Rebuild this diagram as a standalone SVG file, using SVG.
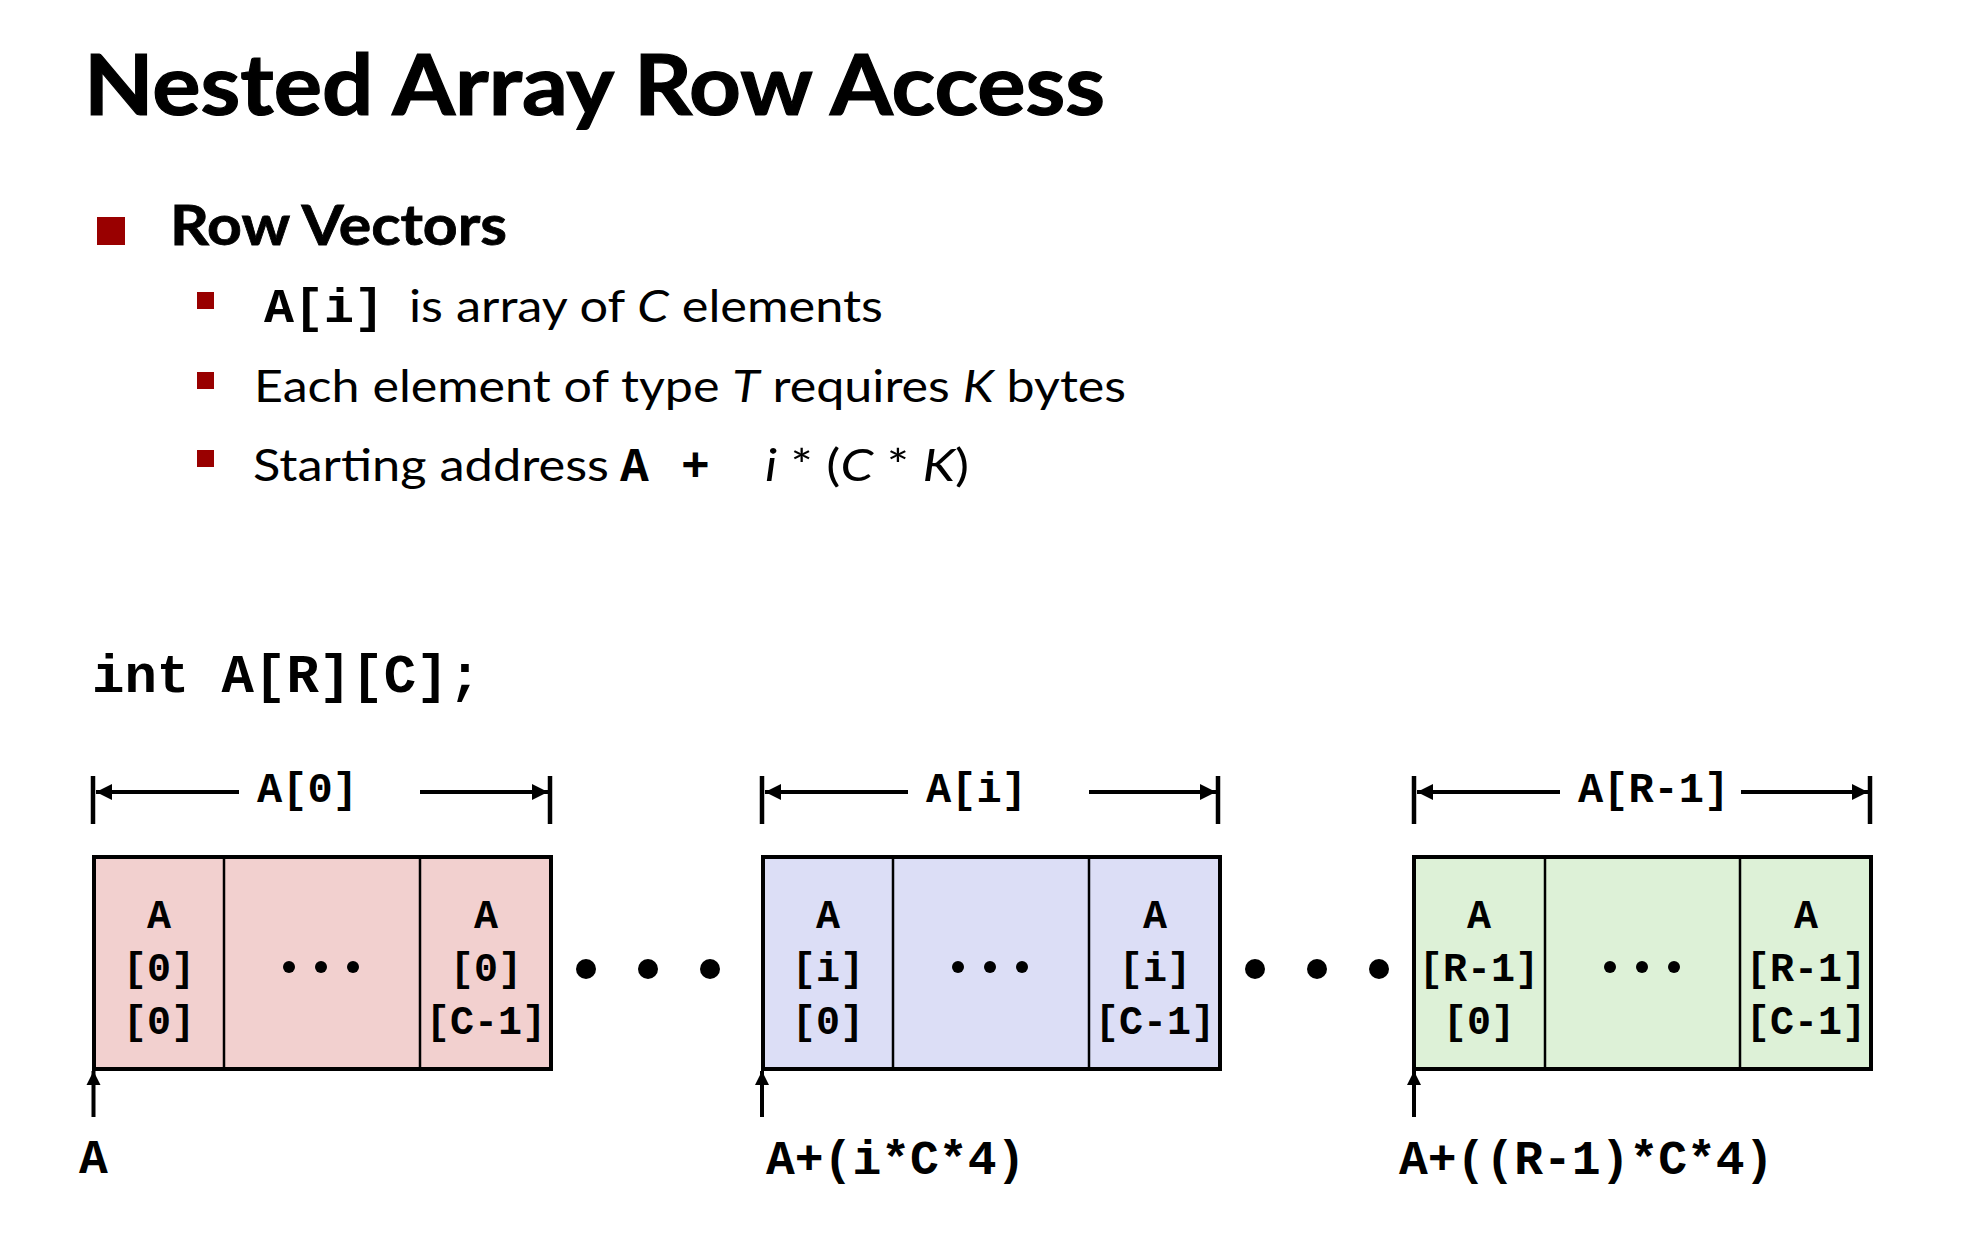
<svg xmlns="http://www.w3.org/2000/svg" width="1962" height="1234" viewBox="0 0 1962 1234">
  <style>
    .title { font-family: Lato, "Open Sans", sans-serif; font-weight: 700; font-size: 84px; fill: #000; stroke: #000; stroke-width: 1.2; }
    .h1 { font-family: Lato, "Open Sans", sans-serif; font-weight: 700; font-size: 56px; fill: #000; stroke: #000; stroke-width: 0.8; }
    .body { font-family: Lato, "Open Sans", sans-serif; font-size: 45px; fill: #000; }
    .it { font-style: italic; }
    .code { font-family: "Liberation Mono", "Courier New", monospace; font-weight: 700; fill: #000; }
    .decl { font-size: 54px; }
    .dim { font-size: 42px; }
    .cell { font-size: 40px; text-anchor: middle; }
    .addr { font-size: 48px; }
    .bul { fill: #990000; }
    .outer { stroke: #000; stroke-width: 4; }
    .div { stroke: #000; stroke-width: 2.5; fill: none; }
    .dl { stroke: #000; stroke-width: 4; fill: none; }
    .tick { stroke: #000; stroke-width: 4.5; fill: none; }
    .p0 { fill: #f2d0cf; }
    .pi { fill: #dcdef6; }
    .pr { fill: #ddf1d7; }
  </style>
  <defs>
    <marker id="ah" viewBox="0 0 10 10" refX="10" refY="5" markerWidth="4" markerHeight="4" orient="auto" markerUnits="strokeWidth">
      <path d="M0,0 L10,5 L0,10 z" fill="#000"/>
    </marker>
    <marker id="up" viewBox="0 0 10 10" refX="10" refY="5" markerWidth="3.6" markerHeight="3.6" orient="auto" markerUnits="strokeWidth">
      <path d="M0,0 L10,5 L0,10 z" fill="#000"/>
    </marker>
  </defs>

  <rect width="1962" height="1234" fill="#fff"/>

  <!-- heading and bullet list -->
  <g id="heading">
    <text class="title" x="84" y="115" textLength="1021" lengthAdjust="spacingAndGlyphs">Nested Array Row Access</text>
    <rect class="bul" x="97" y="217" width="28" height="28"/>
    <text class="h1" x="170" y="245" textLength="337" lengthAdjust="spacingAndGlyphs">Row Vectors</text>

    <rect class="bul" x="197" y="292" width="17" height="17"/>
    <text class="code" x="264" y="322" font-size="48" textLength="120" lengthAdjust="spacingAndGlyphs">A[i]</text>
    <text class="body" x="409" y="322" textLength="474" lengthAdjust="spacingAndGlyphs">is array of <tspan class="it">C</tspan> elements</text>

    <rect class="bul" x="197" y="372" width="17" height="17"/>
    <text class="body" x="254" y="402" textLength="872" lengthAdjust="spacingAndGlyphs">Each element of type <tspan class="it">T</tspan> requires <tspan class="it">K</tspan> bytes</text>

    <rect class="bul" x="197" y="450" width="17" height="17"/>
    <text class="body" x="253" y="481" textLength="356" lengthAdjust="spacingAndGlyphs">Starting address</text>
    <text class="code" x="620" y="481" font-size="48">A</text>
    <text class="code" x="681" y="481" font-size="48">+</text>
    <text class="body" x="765" y="481" textLength="204" lengthAdjust="spacingAndGlyphs"><tspan class="it">i</tspan> * (<tspan class="it">C</tspan> * <tspan class="it">K</tspan>)</text>
  </g>

  <g id="declaration">
    <text class="code decl" x="92" y="692">int A[R][C];</text>
  </g>

  <!-- row A[0] -->
  <g id="row-0">
    <rect class="outer p0" x="94" y="857" width="457" height="212"/>
    <line class="div" x1="224" y1="857" x2="224" y2="1069"/>
    <line class="div" x1="420" y1="857" x2="420" y2="1069"/>
    <text class="code cell" x="159" y="928">A</text>
    <text class="code cell" x="159" y="981">[0]</text>
    <text class="code cell" x="159" y="1034">[0]</text>
    <circle cx="289" cy="967" r="6"/><circle cx="321" cy="967" r="6"/><circle cx="353" cy="967" r="6"/>
    <text class="code cell" x="486" y="928">A</text>
    <text class="code cell" x="486" y="981">[0]</text>
    <text class="code cell" x="486" y="1034">[C-1]</text>
  </g>

  <!-- row A[i] -->
  <g id="row-i">
    <rect class="outer pi" x="763" y="857" width="457" height="212"/>
    <line class="div" x1="893" y1="857" x2="893" y2="1069"/>
    <line class="div" x1="1089" y1="857" x2="1089" y2="1069"/>
    <text class="code cell" x="828" y="928">A</text>
    <text class="code cell" x="828" y="981">[i]</text>
    <text class="code cell" x="828" y="1034">[0]</text>
    <circle cx="958" cy="967" r="6"/><circle cx="990" cy="967" r="6"/><circle cx="1022" cy="967" r="6"/>
    <text class="code cell" x="1155" y="928">A</text>
    <text class="code cell" x="1155" y="981">[i]</text>
    <text class="code cell" x="1155" y="1034">[C-1]</text>
  </g>

  <!-- row A[R-1] -->
  <g id="row-last">
    <rect class="outer pr" x="1414" y="857" width="457" height="212"/>
    <line class="div" x1="1545" y1="857" x2="1545" y2="1069"/>
    <line class="div" x1="1740" y1="857" x2="1740" y2="1069"/>
    <text class="code cell" x="1479" y="928">A</text>
    <text class="code cell" x="1479" y="981">[R-1]</text>
    <text class="code cell" x="1479" y="1034">[0]</text>
    <circle cx="1610" cy="967" r="6"/><circle cx="1642" cy="967" r="6"/><circle cx="1674" cy="967" r="6"/>
    <text class="code cell" x="1806" y="928">A</text>
    <text class="code cell" x="1806" y="981">[R-1]</text>
    <text class="code cell" x="1806" y="1034">[C-1]</text>
  </g>

  <!-- ellipsis between rows -->
  <g id="gap-dots">
    <circle cx="586" cy="969" r="10"/><circle cx="648" cy="969" r="10"/><circle cx="710" cy="969" r="10"/>
    <circle cx="1255" cy="969" r="10"/><circle cx="1317" cy="969" r="10"/><circle cx="1379" cy="969" r="10"/>
  </g>

  <!-- row extent dimension lines -->
  <g id="connectors">
    <line class="tick" x1="93" y1="776" x2="93" y2="824"/>
    <line class="tick" x1="550" y1="776" x2="550" y2="824"/>
    <line class="dl" x1="239" y1="792" x2="96" y2="792" marker-end="url(#ah)"/>
    <line class="dl" x1="420" y1="792" x2="548" y2="792" marker-end="url(#ah)"/>

    <line class="tick" x1="762" y1="776" x2="762" y2="824"/>
    <line class="tick" x1="1218" y1="776" x2="1218" y2="824"/>
    <line class="dl" x1="908" y1="792" x2="765" y2="792" marker-end="url(#ah)"/>
    <line class="dl" x1="1089" y1="792" x2="1216" y2="792" marker-end="url(#ah)"/>

    <line class="tick" x1="1414" y1="776" x2="1414" y2="824"/>
    <line class="tick" x1="1870" y1="776" x2="1870" y2="824"/>
    <line class="dl" x1="1560" y1="792" x2="1417" y2="792" marker-end="url(#ah)"/>
    <line class="dl" x1="1741" y1="792" x2="1868" y2="792" marker-end="url(#ah)"/>

    <!-- start-address pointers -->
    <line class="dl" x1="93.5" y1="1117" x2="93.5" y2="1071" marker-end="url(#up)"/>
    <line class="dl" x1="762" y1="1117" x2="762" y2="1071" marker-end="url(#up)"/>
    <line class="dl" x1="1414" y1="1117" x2="1414" y2="1071" marker-end="url(#up)"/>
  </g>

  <g id="labels">
    <text class="code dim" x="257" y="802">A[0]</text>
    <text class="code dim" x="926" y="802">A[i]</text>
    <text class="code dim" x="1578" y="802">A[R-1]</text>
    <text class="code addr" x="79" y="1173">A</text>
    <text class="code addr" x="766" y="1174">A+(i*C*4)</text>
    <text class="code addr" x="1399" y="1174">A+((R-1)*C*4)</text>
  </g>
</svg>
